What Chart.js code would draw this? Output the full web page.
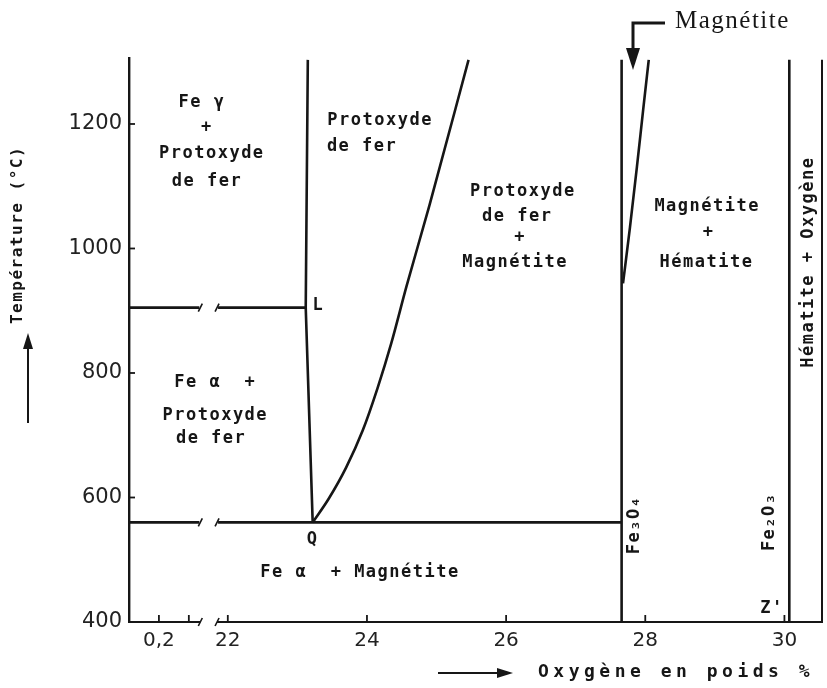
<!DOCTYPE html>
<html>
<head>
<meta charset="utf-8">
<script src="https://cdn.jsdelivr.net/npm/chart.js@4.4.1/dist/chart.umd.min.js"></script>
<style>
body { margin: 0; background: #fff; }
#wrap { width: 827px; height: 688px; position: relative; }
</style>
</head>
<body>
<div id="wrap"><canvas id="diagram"></canvas></div>
<script>
// axis ticks
const oxygenTicks = [0.2, 0.4, 22, 24, 26, 28, 30];
const oxygenLabels = ['0,2', '', '22', '24', '26', '28', '30'];
const tempTicks = [400, 600, 800, 1000, 1200];

// phase boundaries (oxygen %, temperature °C), null = axis break
const gammaAlphaO = [0, 0.47, null, 21.86, 23.12];
const gammaAlphaT = [905, 905, null, 905, 905];
const eutectoidO = [0, 0.47, null, 21.86, 27.66];
const eutectoidT = [560, 560, null, 560, 560];
const wustiteFeO = [23.15, 23.12, 23.22];
const wustiteFeT = [1303, 905, 560];
const wustiteOxO = [23.22, 23.45, 23.70, 23.94, 24.15, 24.35, 24.57, 24.90, 25.46];
const wustiteOxT = [560, 598, 648, 708, 775, 848, 940, 1070, 1303];
const magnetiteFeO = [27.66, 27.66];
const magnetiteFeT = [1303, 400];
const magnetiteOxO = [27.68, 27.78, 27.88, 27.97, 28.05];
const magnetiteOxT = [944, 1034, 1131, 1223, 1303];
const hematiteO = [30.07, 30.07];
const hematiteT = [1303, 400];

// region names: text, axis position, temperature, rotated
const regionLabels = [
  ['Fe γ', 21.63, 1235], ['+', 21.70, 1194], ['Protoxyde', 21.77, 1153], ['de fer', 21.70, 1107],
  ['Protoxyde', 24.19, 1205], ['de fer', 23.93, 1163],
  ['Protoxyde', 26.24, 1092], ['de fer', 26.16, 1051], ['+', 26.20, 1018], ['Magnétite', 26.13, 977],
  ['Magnétite', 28.89, 1067], ['+', 28.91, 1025], ['Hématite', 28.88, 977],
  ['Fe α  +', 21.82, 784], ['Protoxyde', 21.82, 732], ['de fer', 21.76, 694],
  ['Fe α  + Magnétite', 23.90, 479],
  ['L', 23.30, 909], ['Q', 23.22, 532], ["Z'", 29.82, 422],
  ['Hématite + Oxygène', 30.34, 978, true],
  ['Fe₃O₄', 27.85, 556, true], ['Fe₂O₃', 29.79, 561, true]
];

// left part of the axis (0 - 0,5 %) is stretched before the break
const AXIS_START = 20.58;
const LEFT_STRETCH = 2.15;
function toAxis(o) {
  return o < 1 ? AXIS_START + LEFT_STRETCH * o : o;
}

const INK = '#161616';
const datasets = [];
function addBoundary(ox, temps, curved) {
  let seg = [];
  for (let i = 0; i <= ox.length; i++) {
    if (i === ox.length || ox[i] === null) {
      if (seg.length) datasets.push({
        data: seg, showLine: true, pointRadius: 0, borderColor: INK,
        borderWidth: 2.6, fill: false,
        tension: curved ? 0.4 : 0,
        cubicInterpolationMode: curved ? 'monotone' : 'default'
      });
      seg = [];
    } else {
      seg.push({ x: toAxis(ox[i]), y: temps[i] });
    }
  }
}
addBoundary(gammaAlphaO, gammaAlphaT);
addBoundary(eutectoidO, eutectoidT);
addBoundary(wustiteFeO, wustiteFeT);
addBoundary(wustiteOxO, wustiteOxT, true);
addBoundary(magnetiteFeO, magnetiteFeT);
addBoundary(magnetiteOxO, magnetiteOxT, true);
addBoundary(hematiteO, hematiteT);

const MONO = '"DejaVu Sans Mono", monospace';

const extras = {
  id: 'extras',
  afterDraw(chart) {
    const ctx = chart.ctx;
    const xs = chart.scales.x, ys = chart.scales.y;
    const area = chart.chartArea;
    ctx.save();
    ctx.strokeStyle = INK;
    ctx.fillStyle = INK;

    // right frame
    ctx.lineWidth = 2;
    ctx.beginPath();
    ctx.moveTo(area.right, ys.getPixelForValue(1303));
    ctx.lineTo(area.right, area.bottom + 1);
    ctx.stroke();

    // axis break on the x axis
    const b1 = xs.getPixelForValue(toAxis(0.47));
    const b2 = xs.getPixelForValue(21.86);
    ctx.fillStyle = '#fff';
    ctx.fillRect(b1 + 1, area.bottom - 3, b2 - b1 - 2, 6);
    ctx.fillStyle = INK;
    ctx.lineWidth = 1.6;
    [560, 905, 400].forEach(t => {
      const y = ys.getPixelForValue(t);
      ctx.beginPath();
      ctx.moveTo(b1 - 1, y + 4); ctx.lineTo(b1 + 3, y - 4);
      ctx.moveTo(b2 - 3, y + 4); ctx.lineTo(b2 + 1, y - 4);
      ctx.stroke();
    });

    // inward ticks
    ctx.lineWidth = 1.8;
    oxygenTicks.forEach(o => {
      const x = xs.getPixelForValue(toAxis(o));
      ctx.beginPath(); ctx.moveTo(x, area.bottom); ctx.lineTo(x, area.bottom - 7); ctx.stroke();
    });
    tempTicks.slice(1).forEach(t => {
      const y = ys.getPixelForValue(t);
      ctx.beginPath(); ctx.moveTo(area.left, y); ctx.lineTo(area.left + 6, y); ctx.stroke();
    });

    // region labels
    ctx.textAlign = 'center';
    ctx.textBaseline = 'middle';
    ctx.font = 'bold 17px ' + MONO;
    ctx.letterSpacing = '1.5px';
    regionLabels.forEach(([txt, u, t, rot]) => {
      const x = xs.getPixelForValue(u), y = ys.getPixelForValue(t);
      ctx.save();
      ctx.translate(x, y);
      if (rot) ctx.rotate(-Math.PI / 2);
      ctx.fillText(txt, 0, 0);
      ctx.restore();
    });

    // y title with arrow
    ctx.save();
    ctx.font = 'bold 16px ' + MONO;
    ctx.translate(18, 235);
    ctx.rotate(-Math.PI / 2);
    ctx.fillText('Température (°C)', 0, 0);
    ctx.restore();
    ctx.lineWidth = 2;
    ctx.beginPath(); ctx.moveTo(28, 423); ctx.lineTo(28, 345); ctx.stroke();
    ctx.beginPath(); ctx.moveTo(23, 349); ctx.lineTo(33, 349); ctx.lineTo(28, 333); ctx.closePath(); ctx.fill();

    // x title with arrow
    ctx.textAlign = 'left';
    ctx.font = 'bold 18px ' + MONO;
    ctx.letterSpacing = '4.5px';
    ctx.fillText('Oxygène en poids %', 538, 672);
    ctx.beginPath(); ctx.moveTo(438, 673); ctx.lineTo(500, 673); ctx.stroke();
    ctx.beginPath(); ctx.moveTo(497, 668); ctx.lineTo(497, 678); ctx.lineTo(513, 673); ctx.closePath(); ctx.fill();

    // magnetite callout
    ctx.letterSpacing = '1.5px';
    ctx.font = '25px "Liberation Serif", serif';
    ctx.fillText('Magnétite', 675, 21);
    ctx.lineWidth = 3;
    ctx.beginPath(); ctx.moveTo(665, 23); ctx.lineTo(633, 23); ctx.lineTo(633, 52); ctx.stroke();
    ctx.beginPath(); ctx.moveTo(626, 48); ctx.lineTo(640, 48); ctx.lineTo(633, 70); ctx.closePath(); ctx.fill();

    ctx.restore();
  }
};

new Chart(document.getElementById('diagram'), {
  type: 'scatter',
  data: { datasets: datasets },
  options: {
    responsive: true,
    maintainAspectRatio: false,
    animation: false,
    events: [],
    layout: { padding: { top: 58, right: 5, bottom: 0, left: 0 } },
    plugins: { legend: { display: false }, tooltip: { enabled: false } },
    scales: {
      x: {
        type: 'linear',
        min: AXIS_START,
        max: 30.54,
        grid: { display: true, drawOnChartArea: false, drawTicks: false },
        border: { display: true, color: INK, width: 2 },
        ticks: {
          autoSkip: false, maxRotation: 0, padding: 7, color: '#222',
          font: { family: 'DejaVu Sans', size: 20 },
          callback: (v, i) => oxygenLabels[i]
        },
        afterBuildTicks: s => { s.ticks = oxygenTicks.map(o => ({ value: toAxis(o) })); },
        afterFit: s => { s.height = 66; }
      },
      y: {
        type: 'linear',
        min: 400,
        max: 1306,
        grid: { display: true, drawOnChartArea: false, drawTicks: false },
        border: { display: true, color: INK, width: 2.4 },
        ticks: {
          autoSkip: false, padding: 7, color: '#222',
          font: { family: 'DejaVu Sans', size: 21 },
          callback: v => String(v)
        },
        afterBuildTicks: s => { s.ticks = tempTicks.map(t => ({ value: t })); },
        afterFit: s => { s.width = 129; }
      }
    }
  },
  plugins: [extras]
});
</script>
</body>
</html>
